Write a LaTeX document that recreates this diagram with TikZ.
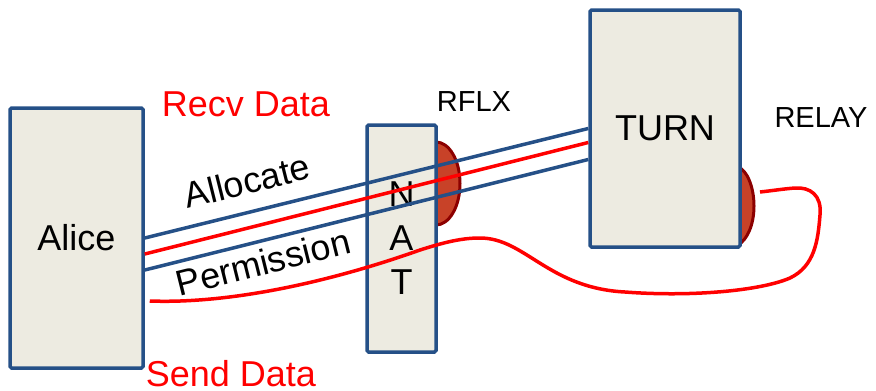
\documentclass[tikz,border=0pt]{standalone}
\usepackage{fontspec}
\setmainfont{Liberation Sans}
\definecolor{boxfill}{RGB}{237,235,225}
\definecolor{boxline}{RGB}{37,80,135}
\definecolor{bumpfill}{RGB}{200,66,40}
\definecolor{bumpline}{RGB}{140,0,0}
\definecolor{sigred}{RGB}{255,0,0}
\tikzset{
  entity/.style={draw=boxline, fill=boxfill, line width=3.5pt, rounded corners=1.5pt, inner sep=0pt,
                 font=\fontsize{36}{44}\selectfont, text=black},
  bump/.style={draw=bumpline, fill=bumpfill, line width=3pt},
  blueline/.style={draw=boxline, line width=3.5pt},
  redline/.style={draw=sigred, line width=3.5pt},
  biglabel/.style={font=\fontsize{36}{44}\selectfont, inner sep=0pt},
  smalllabel/.style={font=\fontsize{29}{34}\selectfont, inner sep=0pt}
}
\begin{document}
\begin{tikzpicture}[x=1pt,y=-1pt]
\useasboundingbox (0,0) rectangle (876,391);
% bumps (behind boxes and lines)
\draw[bump] (430,142) -- (436,142) .. controls (449,142) and (460,160) .. (460,183.5)
   .. controls (460,207) and (449,225) .. (436,225) -- (430,225) -- cycle;
\draw[bump] (732,167) -- (738,167) .. controls (747,170) and (754,187) .. (754,206)
   .. controls (754,225) and (747,240) .. (738,245) -- (732,245) -- cycle;
% boxes
\node[entity, minimum width=133pt, minimum height=260pt] (Alice) at (76.5,238) {Alice};
\node[entity, minimum width=69pt, minimum height=227pt, align=center] (NAT) at (401.5,238.5) {N\\A\\T};
\node[entity, minimum width=150pt, minimum height=237pt] (TURN) at (665,128.5) {TURN};
% labels
\node[biglabel, text=sigred] (recv) at (246,104) {Recv Data};
\node[biglabel, text=sigred] (send) at (231,374) {Send Data};
\node[smalllabel] (rflx) at (474,102) {RFLX};
\node[smalllabel] (relay) at (821,118) {RELAY};
\node[biglabel, rotate=14] (alloc) at (247,181) {Allocate};
\node[biglabel, rotate=14] (perm) at (263,262) {Permission};
% parallel lines Alice -> TURN
\draw[blueline] (Alice.east) -- (TURN.west);
\draw[redline] ([yshift=-16pt]Alice.east) -- ([yshift=-14pt]TURN.west);
\draw[blueline] ([yshift=-32pt]Alice.east) -- ([yshift=-31pt]TURN.west);
% send data curve
\coordinate (sendStart) at ([xshift=5pt,yshift=-63pt]Alice.east);
\coordinate (relayEnd) at (760,192);
\draw[redline] (sendStart) .. controls (230,304) and (330,282) .. (420,250)
   .. controls (445,242) and (462,238) .. (480,238)
   .. controls (525,238) and (548,288) .. (625,292)
   .. controls (690,297) and (760,291) .. (790,278)
   .. controls (815,266) and (818,240) .. (820,215)
   .. controls (822,195) and (810,187) .. (795,188)
   .. controls (782,189) and (770,191) .. (relayEnd);
\end{tikzpicture}
\end{document}
